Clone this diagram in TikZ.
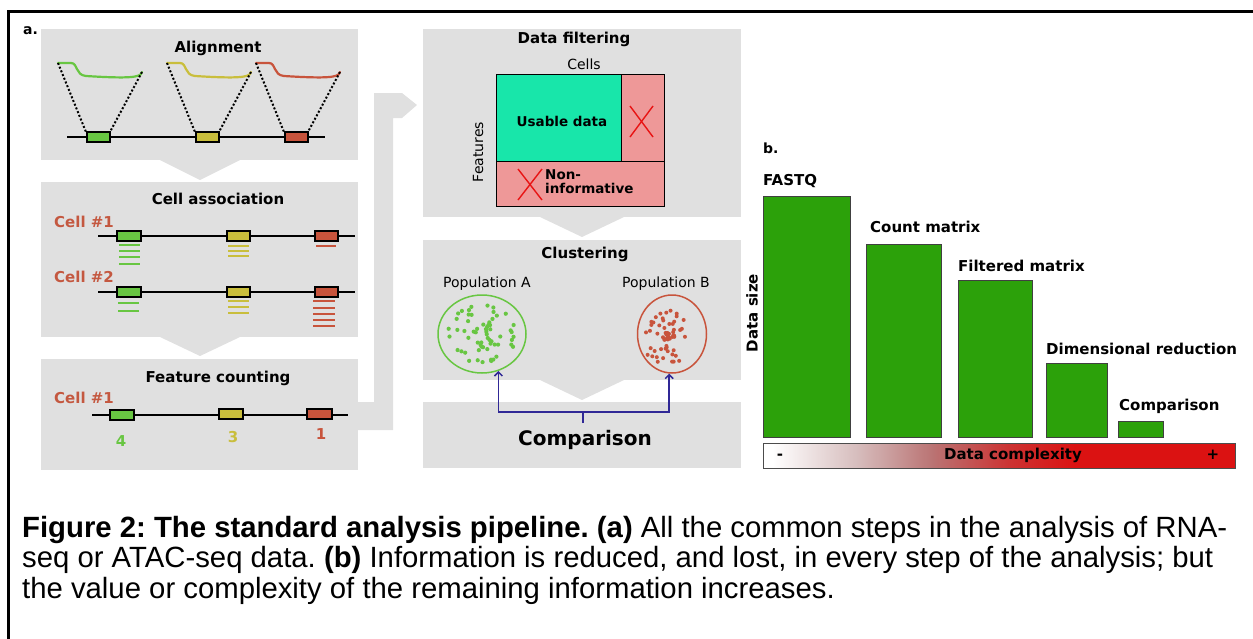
\documentclass[tikz,border=0pt]{standalone}
\usepackage{fontspec}
\setmainfont{DejaVu Sans}
\newfontfamily\capfont{Liberation Sans}
\usepackage{tikz}
\usetikzlibrary{shapes.geometric, arrows.meta, positioning}
\frenchspacing
\tikzstyle{title} = [font=\bfseries\fontsize{15}{18}\selectfont, anchor=base, inner sep=0pt]
\tikzstyle{celllab} = [font=\bfseries\fontsize{15}{18}\selectfont, text=cellred, anchor=base west, inner sep=0pt]
\tikzstyle{plain} = [font=\fontsize{14}{17}\selectfont, inner sep=0pt]
\tikzstyle{boxtext} = [font=\bfseries\fontsize{13.5}{16}\selectfont, inner sep=0pt]
\tikzstyle{barlab} = [font=\bfseries\fontsize{15}{18}\selectfont, inner sep=0pt]
\tikzstyle{caption} = [font=\capfont\fontsize{29.3}{30}\selectfont, anchor=base west, inner sep=0pt]
\tikzstyle{gene} = [draw=black, line width=1.8pt]
\tikzstyle{chrom} = [line width=1.5pt]
\tikzstyle{readlink} = [line width=2pt, dash pattern=on 2pt off 2pt]
\tikzstyle{readbar} = [line width=2pt]
\tikzstyle{cross} = [line width=1.4pt, draw=xred]
\tikzstyle{bar} = [fill=bargreen, draw=black!75, line width=1pt]
\tikzstyle{bluearrow} = [line width=1.5pt, draw=arrowblue, -{Straight Barb[length=4pt,width=8pt]}]
\pgfdeclarehorizontalshading{complexity}{100bp}{rgb(0bp)=(1,1,1); rgb(26bp)=(1,1,1); rgb(35bp)=(0.84,0.74,0.74); rgb(43bp)=(0.73,0.45,0.45); rgb(51bp)=(0.80,0.20,0.20); rgb(58bp)=(0.86,0.07,0.07); rgb(100bp)=(0.86,0.07,0.07)}

\begin{document}
\begin{tikzpicture}[x=1pt, y=-1pt]
\definecolor{panelgrey}{RGB}{224,224,224}
\definecolor{genegreen}{RGB}{104,198,66}
\definecolor{geneyellow}{RGB}{201,190,60}
\definecolor{genered}{RGB}{200,84,60}
\definecolor{cellred}{RGB}{196,88,64}
\definecolor{usable}{RGB}{24,230,170}
\definecolor{noninfo}{RGB}{238,152,152}
\definecolor{xred}{RGB}{232,20,20}
\definecolor{arrowblue}{RGB}{48,40,150}
\definecolor{bargreen}{RGB}{44,161,10}

\useasboundingbox (0,0) rectangle (1253,638);

% Frame
\draw[line width=3pt] (8,640) -- (8,11) -- (1256,11);

% Panel backgrounds and step arrows
\fill[panelgrey] (41,29) rectangle (358,160);
\fill[panelgrey] (41,182) rectangle (358,337);
\fill[panelgrey] (41,359) rectangle (358,470);
\fill[panelgrey] (423,29) rectangle (741,217);
\fill[panelgrey] (423,240) rectangle (741,380);
\fill[panelgrey] (423,402) rectangle (741,468);
\fill[panelgrey] (160,160) -- (240,160) -- (200,180) -- cycle;
\fill[panelgrey] (160,337) -- (240,337) -- (200,356) -- cycle;
\fill[panelgrey] (540,217) -- (624,217) -- (582,237) -- cycle;
\fill[panelgrey] (540,380) -- (624,380) -- (582,400) -- cycle;
\fill[panelgrey] (358,402) -- (374,402) -- (374,93) -- (402,93) -- (417,105) -- (402,118) -- (393,118) -- (393,430) -- (358,430) -- cycle;

\node[font=\bfseries\fontsize{14}{16}\selectfont, anchor=base west, inner sep=0pt] (labela) at (23,34) {a.};

% Alignment
\node[title] (alignT) at (218,52) {Alignment};
\draw[chrom] (67,137) -- (325,137);
\foreach \dx/\col in {0/genegreen, 109/geneyellow, 198/genered} {
    \draw[\col, line width=2.2pt, line cap=round] ({58+\dx},63) -- ({71+\dx},63) .. controls ({78+\dx},63) and ({75+\dx},75) .. ({86+\dx},76) .. controls ({110+\dx},77.5) and ({128+\dx},78) .. ({135+\dx},76.5) .. controls ({140+\dx},75.5) and ({142+\dx},74) .. ({142+\dx},72);
    \draw[readlink] ({58+\dx},63) -- ({86+\dx},132);
    \draw[readlink] ({142+\dx},72) -- ({110+\dx},132);
    \draw[gene, fill=\col] ({87+\dx},132) rectangle ({110+\dx},142);
}

% Cell association
\node[title] (assocT) at (218,204) {Cell association};
\node[celllab] (cellA) at (54,227) {Cell \#1};
\node[celllab] (cellB) at (54,282) {Cell \#2};
\foreach \y in {236,292} {
    \draw[chrom] (98,\y) -- (355,\y);
    \draw[gene, fill=genegreen] (117,\y-5) rectangle (141,\y+5);
    \draw[gene, fill=geneyellow] (227,\y-5) rectangle (250,\y+5);
    \draw[gene, fill=genered] (315,\y-5) rectangle (338,\y+5);
}
\foreach \y in {245,251,257,264} \draw[readbar, draw=genegreen] (119,\y) -- (140,\y);
\foreach \y in {245.5,250.5,255.5} \draw[readbar, draw=geneyellow] (228,\y) -- (249,\y);
\draw[readbar, draw=genered] (316,245.5) -- (336,245.5);
\foreach \y in {302.5,310.5} \draw[readbar, draw=genegreen] (118,\y) -- (139,\y);
\foreach \y in {301,307,313} \draw[readbar, draw=geneyellow] (228,\y) -- (249,\y);
\foreach \y in {301,307.5,313.5,319.5,325.5} \draw[readbar, draw=genered] (313,\y) -- (335,\y);

% Feature counting
\node[title] (countT) at (218,382) {Feature counting};
\node[celllab] (cellC) at (54,403) {Cell \#1};
\draw[chrom] (92,415) -- (348,415);
\draw[gene, fill=genegreen] (110,410) rectangle (134,420);
\draw[gene, fill=geneyellow] (219,409) rectangle (243,419);
\draw[gene, fill=genered] (307,409) rectangle (332,419);
\node[barlab, text=genegreen, anchor=base] (numA) at (121,446) {4};
\node[barlab, text=geneyellow, anchor=base] (numB) at (233,442) {3};
\node[barlab, text=genered, anchor=base] (numC) at (321,439) {1};

% Data filtering
\node[title] (filterT) at (574,43) {Data filtering};
\node[plain, anchor=base] (cellsT) at (584,69) {Cells};
\fill[usable] (496,74) rectangle (621,161);
\fill[noninfo] (621,74) rectangle (664,161);
\fill[noninfo] (496,161) rectangle (664,206);
\draw[line width=1pt] (496,74) rectangle (664,206);
\draw[line width=1pt] (621,74) -- (621,161);
\draw[line width=1pt] (496,161) -- (664,161);
\draw[cross] (630,106) -- (653,137);
\draw[cross] (653,106) -- (630,137);
\draw[cross] (518,169) -- (542,200);
\draw[cross] (542,169) -- (518,200);
\node[boxtext, anchor=base] (usableT) at (562,126) {Usable data};
\node[boxtext, anchor=base west] (nonT) at (545,179) {Non-};
\node[boxtext, anchor=base west] (infoT) at (545,193) {informative};
\node[plain, rotate=90] (featT) at (478,152) {Features};

% Clustering
\node[title] (clusterT) at (585,258) {Clustering};
\node[plain, anchor=base] (popAT) at (487,287) {Population A};
\node[plain, anchor=base] (popBT) at (666,287) {Population B};
\node[ellipse, draw=genegreen, line width=1.5pt, minimum width=88, minimum height=78, inner sep=0pt] (popA) at (482,334) {};
\node[ellipse, draw=genered, line width=1.5pt, minimum width=69, minimum height=78, inner sep=0pt] (popB) at (672,334) {};
\pgfmathsetseed{17}
\foreach \i in {1,...,62} {
    \pgfmathsetmacro{\ang}{360*rnd}
    \pgfmathsetmacro{\rad}{0.82*sqrt(rnd)}
    \fill[genegreen] ({482+\rad*42*cos(\ang)},{334+\rad*36*sin(\ang)}) circle (2.1pt);
}
\foreach \i in {1,...,62} {
    \pgfmathsetmacro{\ang}{360*rnd}
    \pgfmathsetmacro{\rad}{0.85*rnd}
    \fill[genered] ({668+\rad*30*cos(\ang)},{338+\rad*33*sin(\ang)}) circle (2pt);
}

% Comparison
\node[font=\bfseries\fontsize{20}{24}\selectfont, anchor=base, inner sep=0pt] (cmpT) at (585,445) {Comparison};
\coordinate (cmpfork) at (583,423);
\draw[line width=1.5pt, arrowblue] (cmpfork) -- ++(0,-11) coordinate (cmpsplit);
\draw[bluearrow] (cmpsplit) -| (popA.-66);
\draw[bluearrow] (cmpsplit) -| (popB.-94);

% Data size bars
\node[font=\bfseries\fontsize{14}{16}\selectfont, anchor=base west, inner sep=0pt] (labelb) at (763,153) {b.};
\foreach \xa/\xb/\t in {763/850/196, 866/941/244, 958/1032/280, 1046/1107/363, 1118/1163/421} {
    \draw[bar] (\xa,\t) rectangle (\xb,437);
}
\node[barlab, anchor=base west] (fastqT) at (763,185) {FASTQ};
\node[barlab, anchor=base west] (countmT) at (870,232) {Count matrix};
\node[barlab, anchor=base west] (filtmT) at (958,271) {Filtered matrix};
\node[barlab, anchor=base west] (dimT) at (1046,354) {Dimensional reduction};
\node[barlab, anchor=base west] (compT) at (1119,410) {Comparison};
\node[barlab, rotate=90] (sizeT) at (752,313) {Data size};

% Complexity scale
\shadedraw[shading=complexity, draw=black!70, line width=1pt] (763,443) rectangle (1235,468);
\node[barlab, anchor=base] (minusT) at (780,459) {-};
\node[barlab, anchor=base] (cplxT) at (1013,459) {Data complexity};
\node[barlab, anchor=base] (plusT) at (1213,459) {+};

% Caption
\node[caption] (capA) at (22,537) {\textbf{Figure 2: The standard analysis pipeline. (a)} All the common steps in the analysis of RNA-};
\node[caption] (capB) at (22,567.5) {seq or ATAC-seq data. \textbf{(b)} Information is reduced, and lost, in every step of the analysis; but};
\node[caption] (capC) at (22,598) {the value or complexity of the remaining information increases.};
\end{tikzpicture}
\end{document}
